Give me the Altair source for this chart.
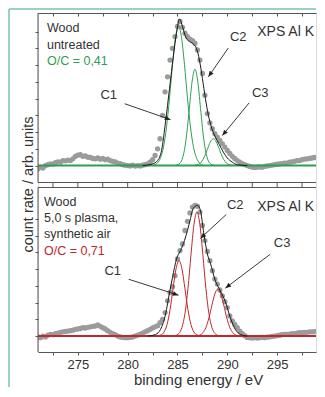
import altair as alt
import pandas as pd
import math

# ---------------- data ----------------
E0, ESTEP = 271.0, 0.25   # energy grid of the measured spectra (eV)

up_dots_y = [-0.20, -0.10, -0.15, 0.00, 0.05, 0.10, 0.08, 0.18, 0.22, 0.20, 0.30, 0.28,
             0.32, 0.30, 0.40, 0.55, 0.62, 0.65, 0.55, 0.58, 0.50, 0.48, 0.42, 0.40,
             0.45, 0.38, 0.42, 0.35, 0.38, 0.30, 0.25, 0.22, 0.15, 0.12, 0.05, 0.02,
             0.00, -0.02, 0.03, -0.03, 0.00, -0.02, 0.02, 0.05, 0.10, 0.20, 0.35, 0.60,
             1.00, 1.60, 3.00, 4.40, 5.30, 6.30, 7.00, 7.70, 8.30, 8.60, 8.25, 7.90,
             7.70, 7.55, 7.45, 7.30, 6.90, 6.30, 5.50, 4.20, 3.10, 2.55, 2.20, 1.90,
             1.70, 1.50, 1.30, 1.10, 0.90, 0.72, 0.55, 0.42, 0.30, 0.20, 0.12, 0.05,
             0.00, -0.05, -0.10, -0.12, -0.10, -0.08, -0.10, -0.05, -0.02, 0.00, 0.03, 0.05,
             0.08, 0.10, 0.12, 0.15, 0.15, 0.20, 0.22, 0.25, 0.30, 0.30, 0.35, 0.38,
             0.40, 0.42, 0.45, 0.48, 0.50, 0.52, 0.55, 0.58]

lo_dots_y = [-0.05, -0.10, 0.00, -0.05, 0.05, 0.10, 0.08, 0.15, 0.18, 0.22, 0.25, 0.28,
             0.30, 0.32, 0.35, 0.40, 0.42, 0.45, 0.50, 0.48, 0.52, 0.55, 0.58, 0.60,
             0.66, 0.58, 0.50, 0.42, 0.32, 0.22, 0.15, 0.08, 0.00, -0.05, -0.08, -0.10,
             -0.10, -0.08, -0.05, 0.00, 0.05, 0.10, 0.18, 0.25, 0.32, 0.40, 0.48, 0.55,
             0.62, 0.80, 1.00, 1.40, 2.10, 2.60, 2.95, 3.60, 4.60, 5.10, 5.50, 6.30,
             6.85, 7.35, 7.70, 7.80, 7.75, 7.40, 6.60, 5.70, 5.05, 4.50, 3.90, 3.40,
             3.10, 2.75, 2.40, 2.05, 1.70, 1.20, 0.90, 0.70, 0.50, 0.30, 0.15, 0.02,
             -0.08, -0.10, -0.12, -0.10, -0.12, -0.10, -0.08, -0.10, -0.06, -0.05, -0.02, 0.00,
             0.02, 0.05, 0.08, 0.10, 0.10, 0.12, 0.15, 0.15, 0.18, 0.20, 0.20, 0.22,
             0.22, 0.25, 0.25, 0.26, 0.28, 0.28, 0.30, 0.30]

# fitted components (upper: untreated)
up_c1_x = [282.6, 283.0, 283.3, 283.6, 283.9, 284.2, 284.5, 284.8, 285.1, 285.4, 285.7, 286.0, 286.3, 286.6, 286.9, 287.2, 287.6]
up_c1_y = [0.03, 0.16, 0.47, 1.12, 2.31, 4.04, 6.03, 7.66, 8.30, 7.66, 6.03, 4.04, 2.31, 1.12, 0.47, 0.16, 0.03]
up_c2_x = [284.85, 285.25, 285.55, 285.85, 286.15, 286.45, 286.75, 287.05, 287.35, 287.65, 287.95, 288.25, 288.65]
up_c2_y = [0.02, 0.14, 0.53, 1.51, 3.17, 4.95, 5.75, 4.95, 3.17, 1.51, 0.53, 0.14, 0.02]
up_c3_x = [286.6, 287.1, 287.4, 287.7, 288.0, 288.3, 288.6, 288.9, 289.2, 289.5, 289.8, 290.1, 290.6]
up_c3_y = [0.01, 0.07, 0.22, 0.52, 0.97, 1.41, 1.60, 1.41, 0.97, 0.52, 0.22, 0.07, 0.01]
up_env_x = [281.5, 282.5, 283.0, 283.4, 283.8, 284.2, 284.6, 284.9, 285.2, 285.5, 285.8, 286.1, 286.5,
            286.9, 287.2, 287.5, 287.8, 288.1, 288.4, 288.8, 289.2, 289.6, 290.0, 290.5, 291.0, 292.0]
up_env_y = [0.00, 0.10, 0.30, 0.90, 2.60, 4.60, 6.60, 7.90, 8.75, 8.30, 7.70, 7.45, 7.30,
            7.00, 6.30, 5.20, 4.00, 3.00, 2.30, 1.70, 1.25, 0.80, 0.45, 0.20, 0.05, 0.00]

# fitted components (lower: plasma treated)
lo_c1_x = [282.95, 283.35, 283.65, 283.95, 284.25, 284.55, 284.85, 285.15, 285.45, 285.75, 286.05, 286.35, 286.65, 286.95, 287.35]
lo_c1_y = [0.01, 0.07, 0.24, 0.69, 1.57, 2.82, 4.00, 4.50, 4.00, 2.82, 1.57, 0.69, 0.24, 0.07, 0.01]
lo_c2_x = [284.75, 285.15, 285.45, 285.75, 286.05, 286.35, 286.65, 286.95, 287.25, 287.55, 287.85, 288.15, 288.45, 288.75, 289.15]
lo_c2_y = [0.02, 0.16, 0.52, 1.35, 2.84, 4.83, 6.65, 7.40, 6.65, 4.83, 2.84, 1.35, 0.52, 0.16, 0.02]
lo_c3_x = [286.85, 287.25, 287.55, 287.85, 288.15, 288.45, 288.75, 289.05, 289.35, 289.65, 289.95, 290.25, 290.55, 290.85, 291.25]
lo_c3_y = [0.01, 0.06, 0.20, 0.51, 1.07, 1.83, 2.52, 2.80, 2.52, 1.83, 1.07, 0.51, 0.20, 0.06, 0.01]
lo_env_x = [282.0, 282.8, 283.3, 283.8, 284.2, 284.5, 284.9, 285.3, 285.7, 286.0, 286.3, 286.6,
            287.0, 287.3, 287.6, 288.0, 288.3, 288.8, 289.3, 289.8, 290.3, 290.8, 291.3, 292.0]
lo_env_y = [0.00, 0.10, 0.40, 1.30, 2.60, 3.50, 4.60, 5.10, 5.70, 6.30, 7.00, 7.65,
            7.80, 7.50, 6.30, 4.90, 4.35, 3.30, 2.70, 2.05, 1.10, 0.40, 0.10, 0.00]

# annotations: label, text x, text y, arrow start x, y, arrow end x, y
up_notes = [("C1", 278.1, 4.23, 279.7, 3.69, 284.3, 2.74),
            ("C2", 291.1, 7.68, 290.1, 7.02, 288.1, 5.30),
            ("C3", 293.3, 4.35, 292.2, 3.75, 289.5, 1.79)]
lo_notes = [("C1", 278.5, 3.87, 280.1, 3.39, 285.1, 2.44),
            ("C2", 290.8, 7.80, 289.9, 7.26, 287.3, 5.83),
            ("C3", 295.5, 5.54, 294.3, 4.88, 289.8, 2.86)]

up_text = ["Wood", "untreated", "O/C = 0,41"]
lo_text = ["Wood", "5,0 s plasma,", "synthetic air", "O/C = 0,71"]
xps_text = "XPS Al K\u03b1"
x_ticks = [272.5, 275, 277.5, 280, 282.5, 285, 287.5, 290, 292.5, 295, 297.5]

# ---------------- styling / layout ----------------
GREEN = "#2f9e52"
RED = "#c1272d"
GRAY = "#9b9b9b"
FRAME = "#555555"
TXT = "#333333"
BORDER = "#78c6a0"
FONT = "Liberation Sans"
XMIN, XMAX = 271.0, 298.9
PXEV = 10.0           # px per eV
UNIT = 16.8           # px per intensity unit
UP_H, LO_H, GAP = 170, 165, 5
UP_BASE, LO_BASE = 17, 16
TOTAL_W, TOTAL_H = 309, 380

YMIN = -LO_BASE / UNIT
LO_TOP = (LO_H - LO_BASE) / UNIT
UP_BOT = LO_TOP + GAP / UNIT
UP_OFF = UP_BOT + UP_BASE / UNIT
YMAX = UP_BOT + UP_H / UNIT

xs = alt.Scale(domain=[XMIN, XMAX], nice=False, zero=False)
ys = alt.Scale(domain=[YMIN, YMAX], nice=False, zero=False)


def X(f="x", axis=None):
    return alt.X(f"{f}:Q", scale=xs, axis=axis)


def Y(f="y", axis=None):
    return alt.Y(f"{f}:Q", scale=ys, axis=axis)


# ---- tables built from the arrays ----
dots = pd.DataFrame(
    [{"x": round(E0 + ESTEP * i, 2), "y": v + UP_OFF} for i, v in enumerate(up_dots_y)] +
    [{"x": round(E0 + ESTEP * i, 2), "y": v} for i, v in enumerate(lo_dots_y)])

comp_rows = []
for cid, (cx, cy, off, col) in enumerate([
        (up_c1_x, up_c1_y, UP_OFF, GREEN), (up_c2_x, up_c2_y, UP_OFF, GREEN), (up_c3_x, up_c3_y, UP_OFF, GREEN),
        (lo_c1_x, lo_c1_y, 0.0, RED), (lo_c2_x, lo_c2_y, 0.0, RED), (lo_c3_x, lo_c3_y, 0.0, RED)]):
    for a, b in zip(cx, cy):
        comp_rows.append({"x": a, "y": b + off, "c": cid, "col": col})
comps = pd.DataFrame(comp_rows)

env = pd.DataFrame([{"x": a, "y": b + UP_OFF, "p": 0} for a, b in zip(up_env_x, up_env_y)] +
                   [{"x": a, "y": b, "p": 1} for a, b in zip(lo_env_x, lo_env_y)])

baselines = pd.DataFrame({"y": [UP_OFF, 0.0], "x": [XMIN, XMIN], "x2": [XMAX, XMAX], "col": [GREEN, RED]})

frames = pd.DataFrame([
    {"x": XMIN, "x2": XMIN, "y": UP_BOT, "y2": YMAX},
    {"x": XMIN, "x2": XMAX, "y": UP_BOT, "y2": UP_BOT},
    {"x": XMIN, "x2": XMAX, "y": LO_TOP, "y2": LO_TOP},
    {"x": XMIN, "x2": XMIN, "y": YMIN, "y2": LO_TOP}])

up_ticks = pd.DataFrame({"x": x_ticks, "y": [UP_BOT - 2.2 / UNIT] * len(x_ticks)})

note_rows = []
for notes, off in [(up_notes, UP_OFF), (lo_notes, 0.0)]:
    for lab, tx, ty, x1, y1, x2, y2 in notes:
        dx = (x2 - x1) * PXEV
        dy = -(y2 - y1) * UNIT
        ang = (math.degrees(math.atan2(dx, -dy)) + 360) % 360
        note_rows.append({"lab": lab, "tx": tx, "ty": ty + off, "x1": x1, "y1": y1 + off,
                          "x2": x2, "y2": y2 + off, "ang": ang})
nd = pd.DataFrame(note_rows)

# sample descriptions: position in px from the panel's top-left corner
desc_rows = []
for texts, bases, x0, top, col in [(up_text, [19, 36, 52], 9, YMAX, GREEN),
                                   (lo_text, [19, 35, 51, 68], 6, LO_TOP, RED)]:
    for i, (t, b) in enumerate(zip(texts, bases)):
        desc_rows.append({"t": t, "x": XMIN + x0 / PXEV, "y": top - b / UNIT,
                          "col": col if i == len(texts) - 1 else TXT})
desc = pd.DataFrame(desc_rows)

# "XPS Al Ka" runs past the right edge in the original; it is truncated at the frame
xps_rows = [{"t": xps_text, "x": XMIN + 220 / PXEV, "y": YMAX - 23 / UNIT},
            {"t": xps_text, "x": XMIN + 220 / PXEV, "y": LO_TOP - 24 / UNIT}]
xps = pd.DataFrame(xps_rows)

bottom_axis = alt.Axis(values=x_ticks, labelExpr="datum.value % 5 == 0 ? datum.value : ''",
                       tickSize=3, labelPadding=3, domainColor=FRAME, tickColor=FRAME,
                       labelColor=TXT, labelFont=FONT, labelFontSize=13,
                       title="binding energy / eV", titleFont=FONT, titleFontSize=15,
                       titleFontWeight="normal", titleColor=TXT, titleX=160, titleY=20,
                       titleBaseline="top", grid=False, labelFlush=False, labelOverlap=False)
top_axis = alt.Axis(orient="top", values=x_ticks, labels=False, ticks=True,
                    tickSize={"expr": "-3"}, domainColor=FRAME, tickColor=FRAME,
                    title=None, grid=False)
left_axis = alt.Axis(values=[float(v) for v in range(0, 8)] + [UP_OFF + v for v in range(0, 9)],
                     labels=False, tickSize=3, domain=False, tickColor=FRAME, title=None, grid=False)

layers = [
    alt.Chart(dots).mark_circle(size=28, color=GRAY, opacity=1, clip=True)
    .encode(x=X(axis=bottom_axis), y=Y(axis=left_axis)),
    alt.Chart(baselines).mark_rule(strokeWidth=2)
    .encode(x=X(), x2="x2:Q", y=Y(), color=alt.Color("col:N", scale=None)),
    alt.Chart(comps).mark_line(strokeWidth=1, interpolate="monotone", clip=True)
    .encode(x=X(), y=Y(), detail="c:N", color=alt.Color("col:N", scale=None)),
    alt.Chart(env).mark_line(color="#1a1a1a", strokeWidth=1, interpolate="monotone", clip=True)
    .encode(x=X(axis=top_axis), y=Y(), detail="p:N"),
    alt.Chart(frames).mark_rule(color=FRAME, strokeWidth=1)
    .encode(x=X(), x2="x2:Q", y=Y(), y2="y2:Q"),
    alt.Chart(up_ticks).mark_tick(orient="vertical", size=4.4, thickness=1, color=FRAME, opacity=1)
    .encode(x=X(), y=Y()),
    alt.Chart(nd).mark_rule(color="#222222", strokeWidth=0.9)
    .encode(x=X("x1"), y=Y("y1"), x2="x2:Q", y2="y2:Q"),
    alt.Chart(nd).mark_point(shape="M0,0L0.42,1L-0.42,1Z", size=130, filled=True,
                             color="#222222", opacity=1)
    .encode(x=X("x2"), y=Y("y2"), angle=alt.Angle("ang:Q", scale=None)),
    alt.Chart(nd).mark_text(font=FONT, fontSize=13, color=TXT, align="center", baseline="middle")
    .encode(x=X("tx"), y=Y("ty"), text="lab:N"),
    alt.Chart(desc).mark_text(font=FONT, fontSize=12.5, align="left", baseline="alphabetic")
    .encode(x=X(), y=Y(), text="t:N", color=alt.Color("col:N", scale=None)),
    alt.Chart(xps).mark_text(font=FONT, fontSize=14, color=TXT, align="left",
                             baseline="alphabetic", limit=59, ellipsis="\u200b")
    .encode(x=X(), y=Y(), text="t:N"),
    # page frame (green) and shared y title
    alt.Chart(pd.DataFrame({"a": [0]})).mark_rule(color=BORDER, strokeWidth=1.5)
    .encode(x=alt.value(-29), y=alt.value(-4), y2=alt.value({"expr": "height + 35"})),
    alt.Chart(pd.DataFrame({"a": [0]})).mark_rule(color=BORDER, strokeWidth=1.5)
    .encode(x=alt.value(-29), x2=alt.value("width"), y=alt.value(-4)),
    alt.Chart(pd.DataFrame({"t": ["count rate / arb. units"]})).mark_text(
        font=FONT, fontSize=14.5, color=TXT, angle=270, align="center", baseline="middle")
    .encode(x=alt.value(-9), y=alt.value({"expr": "height / 2 + 2"}), text="t:N"),
]

chart = alt.layer(*layers).resolve_axis(x="independent", y="independent").properties(
    width=TOTAL_W, height=TOTAL_H, padding=0,
    autosize=alt.AutoSizeParams(type="fit", contains="padding"),
).configure_view(stroke=None).configure(background="white")

chart.save("out.html", embed_options={"renderer": "svg", "actions": False})
